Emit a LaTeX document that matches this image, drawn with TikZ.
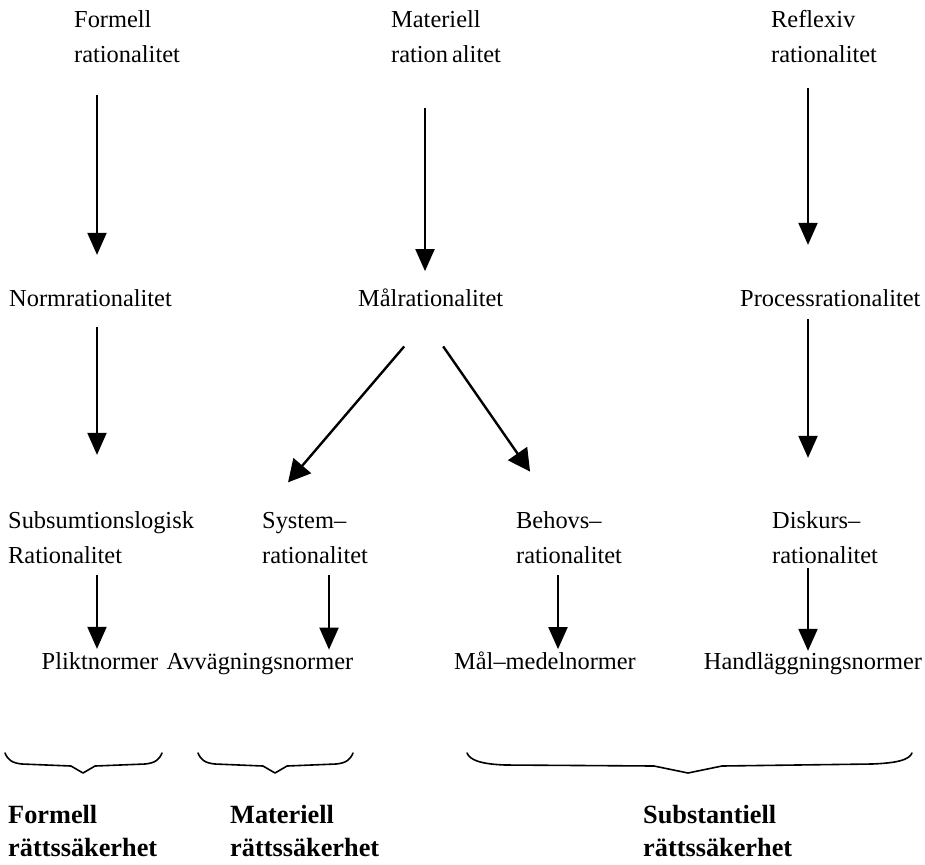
\documentclass[tikz,border=0pt]{standalone}
\usepackage{fontspec}
\setmainfont{Liberation Serif}
\usetikzlibrary{arrows.meta,calc}
\begin{document}
\begin{tikzpicture}[x=1pt,y=-1pt,
  lbl/.style={inner sep=0pt, align=left, font=\fontsize{24.4}{35}\selectfont},
  head/.style={inner sep=0pt, align=left, font=\fontsize{26.3}{33}\selectfont\bfseries},
  arr/.style={line width=2pt, -{Triangle[width=19pt,length=22pt]}},
  diag/.style={line width=2.4pt, -{Triangle[width=23pt,length=22pt]}},
  brc/.style={line width=1.6pt, line join=round, line cap=round}]
\useasboundingbox (0,0) rectangle (925,864);

% column positions of the vertical arrows
\coordinate (k1) at (97,0);
\coordinate (k2) at (425,0);
\coordinate (k3) at (808,0);
\coordinate (k4) at (329,0);
\coordinate (k5) at (558,0);

% top row (base anchor = baseline of the last line)
\node[lbl, anchor=base west] (fr) at (74,63) {Formell\\rationalitet};
\node[lbl, anchor=base west] (mr) at (391,63) {Materiell\\ration\hspace{4pt}alitet};
\node[lbl, anchor=base west] (rr) at (771,63) {Reflexiv\\rationalitet};

% second row
\node[lbl, anchor=base west] (nr) at (9,306) {Normrationalitet};
\node[lbl, anchor=base west] (mal) at (358,306) {Målrationalitet};
\node[lbl, anchor=base west] (pr) at (740,306) {Processrationalitet};

% third row
\node[lbl, anchor=base west] (sr) at (8,563) {Subsumtionslogisk\\Rationalitet};
\node[lbl, anchor=base west] (sys) at (262,563) {System–\\rationalitet};
\node[lbl, anchor=base west] (beh) at (516,563) {Behovs–\\rationalitet};
\node[lbl, anchor=base west] (dis) at (772,563) {Diskurs–\\rationalitet};

% norm types
\node[lbl, anchor=base] (pl) at (100,669) {Pliktnormer};
\node[lbl, anchor=base] (avv) at (260,669) {Avvägningsnormer};
\node[lbl, anchor=base] (mm) at (545,669) {Mål–medelnormer};
\node[lbl, anchor=base] (hn) at (813,669) {Handläggningsnormer};

% kinds of legal certainty
\node[head, anchor=base west] (fs) at (8,856) {Formell\\rättssäkerhet};
\node[head, anchor=base west] (ms) at (230,856) {Materiell\\rättssäkerhet};
\node[head, anchor=base west] (ss) at (643,856) {Substantiell\\rättssäkerhet};

% vertical arrows
\draw[arr, shorten <=32pt, shorten >=34pt] (fr.south -| k1) -- (nr.north -| k1);
\draw[arr, shorten <=45pt, shorten >=17pt] (mr.south -| k2) -- (mal.north -| k2);
\draw[arr, shorten <=25pt, shorten >=44pt] (rr.south -| k3) -- (pr.north -| k3);
\draw[arr, shorten <=21pt, shorten >=56pt] (nr.south -| k1) -- (sr.north -| k1);
\draw[arr, shorten <=13pt, shorten >=53pt] (pr.south -| k3) -- (dis.north -| k3);
\draw[arr, shorten <=12pt, shorten >=3pt] (sr.south -| k1) -- (pl.north -| k1);
\draw[arr, shorten <=12pt, shorten >=3pt] (sys.south -| k4) -- (avv.north -| k4);
\draw[arr, shorten <=12pt, shorten >=2pt] (beh.south -| k5) -- (mm.north -| k5);
\draw[arr, shorten <=5pt, shorten >=1pt] (dis.south -| k3) -- (hn.north -| k3);

% diagonal arrows
\draw[diag] ($(mal.south)+(-26.5,40)$) -- ($(sys.north)+(-27,-29.3)$);
\draw[diag] ($(mal.south)+(12.5,40)$) -- ($(beh.north)+(-39,-39.3)$);

% braces
\draw[brc] (5,753) .. controls (8,760) and (12,763) .. (22,764)
  -- (71,766) -- (83,773) -- (95,766) -- (145,764)
  .. controls (155,763) and (159,760) .. (162,753);
\draw[brc] (198,753) .. controls (201,760) and (205,763) .. (215,764)
  -- (263,766) -- (275,773) -- (287,766) -- (336,764)
  .. controls (346,763) and (350,760) .. (353,753);
\draw[brc] (467,753) .. controls (470,760) and (480,764) .. (505,765)
  -- (654,766) -- (688,773) -- (722,766) -- (872,764)
  .. controls (897,763) and (909,760) .. (912,753);
\end{tikzpicture}
\end{document}
